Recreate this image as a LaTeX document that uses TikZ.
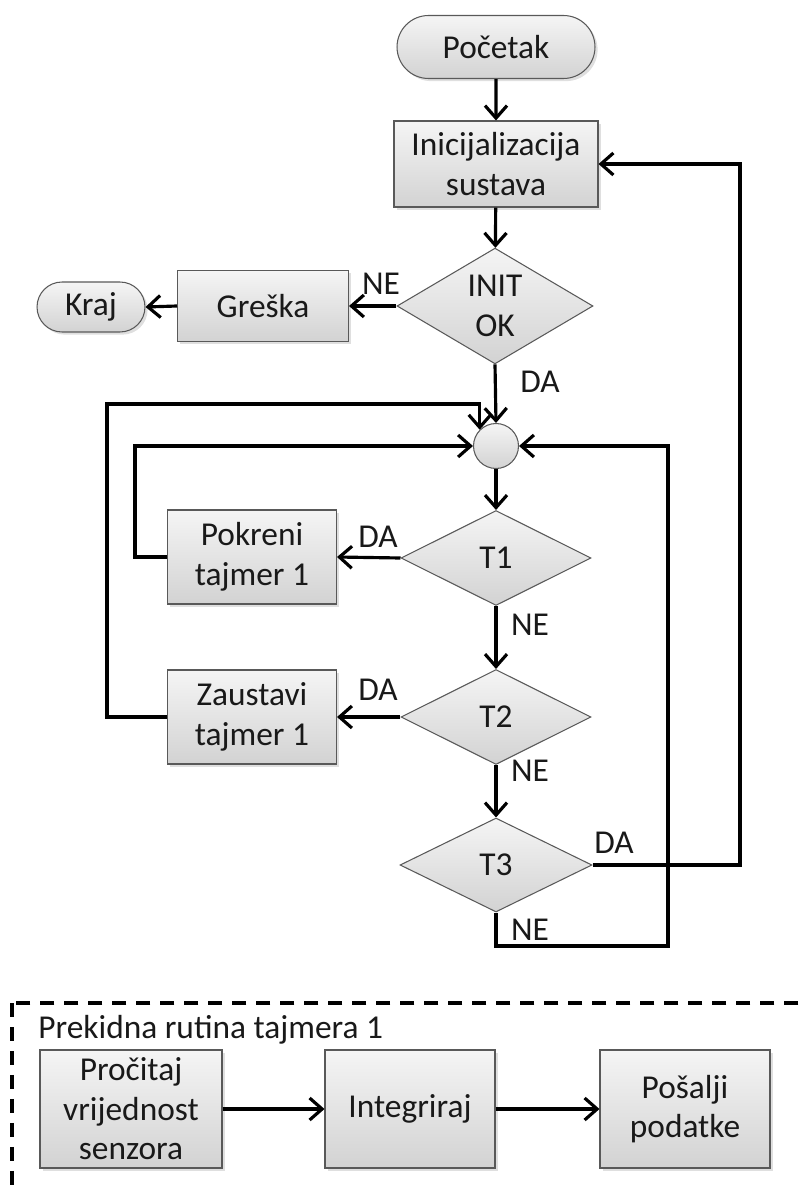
\documentclass[tikz,border=0pt]{standalone}
\usepackage{fontspec}
\setmainfont{Carlito}
\usetikzlibrary{shapes.geometric, shapes.misc, arrows.meta, shadows}

\begin{document}
\begin{tikzpicture}[x=0.02cm, y=-0.02cm,
    font=\fontsize{19}{22.5}\selectfont, text=black!90,
    shaded/.style={draw=black!65, line width=0.6pt, top color=gray!8, bottom color=gray!35, align=center, inner sep=0pt},
    process/.style={shaded, rectangle, drop shadow={opacity=0.25, shadow xshift=1.5pt, shadow yshift=-1.5pt}},
    terminal/.style={shaded, rounded rectangle, drop shadow={opacity=0.25, shadow xshift=1.5pt, shadow yshift=-1.5pt}},
    decision/.style={shaded, diamond},
    junction/.style={shaded, circle, minimum size=0.9cm},
    conn/.style={line width=1.8pt, -{Straight Barb[length=2.5mm, width=4.4mm]}},
    wire/.style={line width=1.8pt},
    lbl/.style={inner sep=0pt}]

    \path[use as bounding box, clip] (0,0) rectangle (802,1189);

    % Main flow
    \node[terminal, minimum width=3.96cm, minimum height=1.26cm] (start) at (496,47) {Početak};
    \node[process, minimum width=4.08cm, minimum height=1.72cm] (init) at (496,164) {Inicijalizacija\\sustava};
    \node[decision, minimum width=3.92cm, minimum height=1.94cm] (initok) at (495,306) {INIT\\OK};
    \node[process, minimum width=3.42cm, minimum height=1.42cm] (greska) at (263,306) {Greška};
    \node[terminal, minimum width=2.16cm, minimum height=1cm] (kraj) at (91,307) {Kraj};
    \node[junction] (junc) at (496,446) {};

    % Timer decisions
    \node[decision, minimum width=3.8cm, minimum height=1.9cm] (t1) at (496,558) {T1};
    \node[process, minimum width=3.38cm, minimum height=1.88cm] (pokreni) at (252,557) {Pokreni\\tajmer 1};
    \node[decision, minimum width=3.8cm, minimum height=1.9cm] (t2) at (496,717) {T2};
    \node[process, minimum width=3.38cm, minimum height=1.88cm] (zaustavi) at (252,717) {Zaustavi\\tajmer 1};
    \node[decision, minimum width=3.84cm, minimum height=1.88cm] (t3) at (496,865) {T3};

    % Labels
    \node[lbl] (lne0) at (381,284) {NE};
    \node[lbl] (lda0) at (540,382) {DA};
    \node[lbl] (lda1) at (378,537) {DA};
    \node[lbl] (lne1) at (530,625) {NE};
    \node[lbl] (lda2) at (378,690) {DA};
    \node[lbl] (lne2) at (530,771) {NE};
    \node[lbl] (lda3) at (614,843) {DA};
    \node[lbl] (lne3) at (530,930) {NE};

    % Arrows
    \draw[conn] (start) -- (init);
    \draw[conn] (init) -- (initok);
    \draw[conn] (initok.west) -- (greska.east);
    \draw[conn] (greska.west) -- (kraj.east);
    \draw[conn] (initok.south) -- (junc.north);
    \draw[conn] (junc.south) -- (t1.north);
    \draw[conn] (t1.west) -- (pokreni.east);
    \draw[conn] (t1.south) -- (t2.north);
    \draw[conn] (t2.west) -- (zaustavi.east);
    \draw[conn] (t2.south) -- (t3.north);

    % Loops back
    \draw[conn] (pokreni.west) -| (135,446) -- (junc.west);
    \draw[conn] (zaustavi.west) -| (107,404) -| (junc.north west);
    \draw[conn] (t3.south) |- (668,946) |- (junc.east);
    \draw[conn] (t3.east) -- (740,865) |- (init.east);

    % Interrupt routine
    \draw[wire, dash pattern=on 0.28cm off 0.2cm] (12,1003) rectangle (900,1300);
    \node[lbl, anchor=west] (isr) at (38,1030) {Prekidna rutina tajmera 1};
    \node[process, minimum width=3.64cm, minimum height=2.36cm] (procitaj) at (131,1109) {Pročitaj\\vrijednost\\senzora};
    \node[process, minimum width=3.4cm, minimum height=2.36cm] (integriraj) at (410,1109) {Integriraj};
    \node[process, minimum width=3.4cm, minimum height=2.36cm] (posalji) at (685,1109) {Pošalji\\podatke};
    \draw[conn] (procitaj) -- (integriraj);
    \draw[conn] (integriraj) -- (posalji);

\end{tikzpicture}
\end{document}
